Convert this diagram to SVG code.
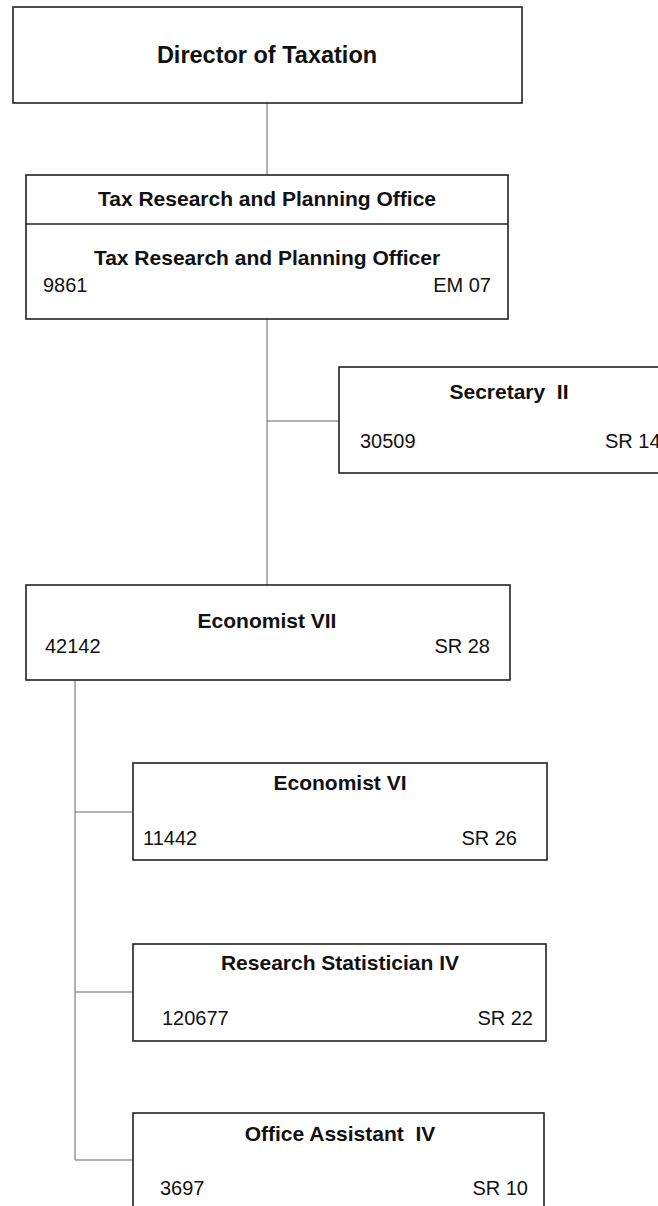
<svg xmlns="http://www.w3.org/2000/svg" width="658" height="1206" viewBox="0 0 658 1206">
<style>
.box{fill:#fff;stroke:#222;stroke-width:1.6}
.ln{fill:none;stroke:#666;stroke-width:1}
.t{font-family:"Liberation Sans",Arial,sans-serif;font-weight:bold;font-size:21px;fill:#111;text-anchor:middle}
.big{font-size:23.5px}
.n{font-family:"Liberation Sans",Arial,sans-serif;font-size:20px;fill:#111}
.r{text-anchor:end}
</style>
<rect width="658" height="1206" fill="#fff"/>
<g id="connectors">
<line class="ln" x1="267" y1="103" x2="267" y2="175"/>
<line class="ln" x1="267" y1="319" x2="267" y2="585"/>
<line class="ln" x1="267" y1="421" x2="339" y2="421"/>
<polyline class="ln" points="75,680 75,1160 133,1160"/>
<line class="ln" x1="75" y1="812" x2="133" y2="812"/>
<line class="ln" x1="75" y1="992" x2="133" y2="992"/>
</g>
<g id="director">
<rect class="box" x="13" y="7" width="509" height="96"/>
<text class="t big" x="267" y="63">Director of Taxation</text>
</g>
<g id="trpo">
<rect class="box" x="26" y="175" width="482" height="144"/>
<line class="box" x1="26" y1="224" x2="508" y2="224"/>
<text class="t" x="267" y="206">Tax Research and Planning Office</text>
<text class="t" x="267" y="265">Tax Research and Planning Officer</text>
<text class="n" x="43" y="292">9861</text>
<text class="n r" x="491" y="292">EM 07</text>
</g>
<g id="secretary">
<rect class="box" x="339" y="367" width="340" height="106"/>
<text class="t" x="509" y="399" xml:space="preserve">Secretary  II</text>
<text class="n" x="360" y="448">30509</text>
<text class="n" x="605" y="448">SR 14</text>
</g>
<g id="economist7">
<rect class="box" x="26" y="585" width="484" height="95"/>
<text class="t" x="267" y="628">Economist VII</text>
<text class="n" x="45" y="653">42142</text>
<text class="n r" x="490" y="653">SR 28</text>
</g>
<g id="economist6">
<rect class="box" x="133" y="763" width="414" height="97"/>
<text class="t" x="340" y="790">Economist VI</text>
<text class="n" x="143" y="845">11442</text>
<text class="n r" x="517" y="845">SR 26</text>
</g>
<g id="statistician">
<rect class="box" x="133" y="944" width="413" height="97"/>
<text class="t" x="340" y="970">Research Statistician IV</text>
<text class="n" x="162" y="1025">120677</text>
<text class="n r" x="533" y="1025">SR 22</text>
</g>
<g id="assistant">
<rect class="box" x="133" y="1113" width="411" height="100"/>
<text class="t" x="340" y="1141" xml:space="preserve">Office Assistant  IV</text>
<text class="n" x="160" y="1195">3697</text>
<text class="n r" x="528" y="1195">SR 10</text>
</g>
</svg>
